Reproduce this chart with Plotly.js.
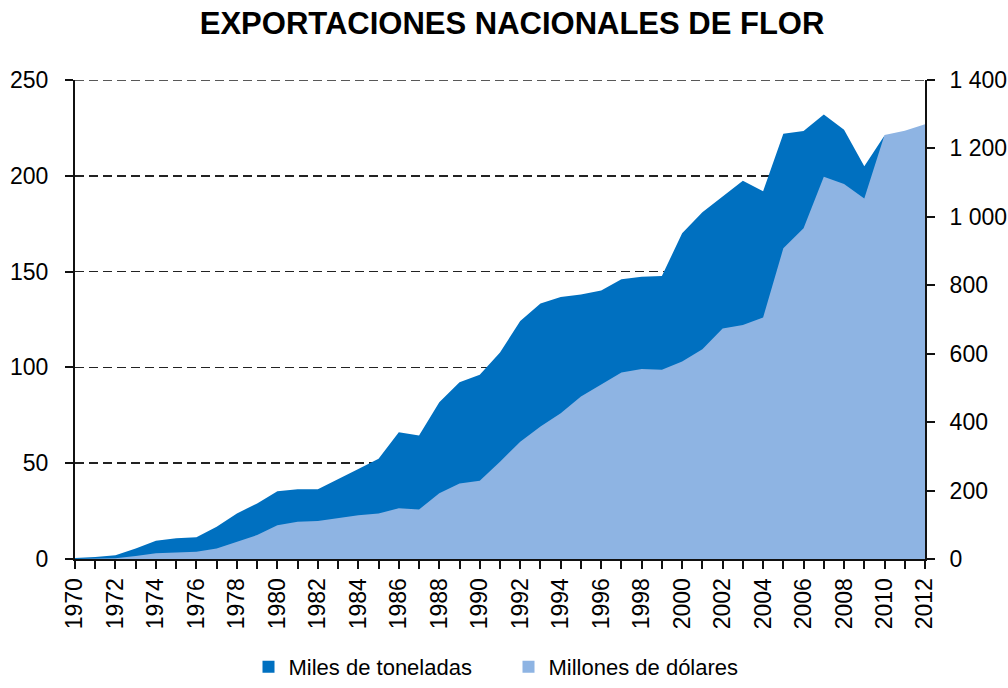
<!DOCTYPE html>
<html>
<head>
<meta charset="utf-8">
<script src="https://cdn.plot.ly/plotly-3.0.1.min.js"></script>
<style>html,body{margin:0;padding:0;background:#fff;}#chart{width:1008px;height:688px;}</style>
</head>
<body>
<div id="chart"></div>
<script>
const years = [1970,1971,1972,1973,1974,1975,1976,1977,1978,1979,1980,1981,1982,1983,1984,1985,1986,1987,1988,1989,1990,1991,1992,1993,1994,1995,1996,1997,1998,1999,2000,2001,2002,2003,2004,2005,2006,2007,2008,2009,2010,2011,2012];
const milesToneladas = [0.5,1,2,5.5,9.5,10.8,11.3,16.8,23.8,29,35.4,36.4,36.4,41.5,47,52.3,66.2,64.5,81.8,92.2,96.2,107.8,124.2,133.3,136.7,138,140.2,146,147.3,147.7,170,181,189,197.4,192,222,223.4,232,224,205,221,null,null];
const millonesDolares = [0,1,2,9,16.6,19,21,31,50,70,99,109,111,119,128,133,148,145,192,221,229,284,343,387,426,475,509,545,555,553,577,613,674,684,706,908,967,1117,1096,1054,1239,1252,1271];
const titleText = 'EXPORTACIONES NACIONALES DE FLOR';
const seriesNames = ['Miles de toneladas','Millones de dólares'];
const colors = ['#0070C0', '#8EB4E3'];
const leftMax = 250, rightMax = 1400;

const font = 'Liberation Sans, Arial, sans-serif';
const traces = [
  {x: years, y: milesToneladas, name: seriesNames[0], type: 'scatter', mode: 'lines', showlegend: false,
   fill: 'tozeroy', fillcolor: colors[0], line: {width: 0, color: colors[0]}, yaxis: 'y'},
  {x: years, y: millonesDolares, name: seriesNames[1], type: 'scatter', mode: 'lines', showlegend: false,
   fill: 'tozeroy', fillcolor: colors[1], line: {width: 0, color: colors[1]}, yaxis: 'y2'},
  // legend-only entries (square swatches)
  {x: [null], y: [null], name: seriesNames[0], type: 'bar', marker: {color: colors[0]}, showlegend: true, hoverinfo: 'skip'},
  {x: [null], y: [null], name: seriesNames[1], type: 'bar', marker: {color: colors[1]}, showlegend: true, hoverinfo: 'skip'}
];
const layout = {
  width: 1008, height: 688,
  margin: {l: 75, r: 83, t: 80, b: 129, autoexpand: false},
  paper_bgcolor: '#fff', plot_bgcolor: 'rgba(0,0,0,0)',
  separators: ', ',
  font: {family: font, size: 23, color: '#000'},
  title: {text: '<b>' + titleText + '</b>', x: 0.508, xanchor: 'center', y: 0.967, yanchor: 'middle',
          font: {family: font, size: 31, color: '#000'}},
  showlegend: true,
  legend: {orientation: 'h', x: 0.51, xanchor: 'center', yref: 'container', y: 0, yanchor: 'bottom',
           font: {family: font, size: 22, color: '#000'}, traceorder: 'normal', itemwidth: 30,
           entrywidth: 215, bgcolor: 'rgba(0,0,0,0)', borderwidth: 0},
  xaxis: {range: [1970, 2012], tickmode: 'linear', tick0: 1970, dtick: 2, tickangle: -90, automargin: false,
          ticks: 'outside', ticklen: 8, tickwidth: 2, tickcolor: '#111', showline: true, linecolor: '#111', linewidth: 2,
          showgrid: false, zeroline: false, tickfont: {size: 23},
          minor: {dtick: 1, tick0: 1970, ticks: 'outside', ticklen: 8, tickwidth: 2, tickcolor: '#111', showgrid: false}},
  yaxis: {range: [0, leftMax], dtick: 50, ticks: 'outside', ticklen: 8, tickwidth: 2, tickcolor: '#111', automargin: false,
          showline: true, linecolor: '#111', linewidth: 2, showgrid: true, gridcolor: '#222',
          griddash: '9px,5px', gridwidth: 1.5, zeroline: false, tickfont: {size: 23}, ticklabelstandoff: 12},
  yaxis2: {range: [0, rightMax], dtick: 200, overlaying: 'y', side: 'right', ticks: 'outside', ticklen: 8, tickwidth: 2,
           tickcolor: '#111', showline: true, linecolor: '#111', linewidth: 2, showgrid: false, automargin: false,
           zeroline: false, separatethousands: true, tickfont: {size: 23}, ticklabelstandoff: 10},
  shapes: [{type: 'line', xref: 'paper', x0: 0, x1: 1, yref: 'y', y0: leftMax, y1: leftMax,
            line: {color: '#222', width: 1.5, dash: '9px,5px'}, layer: 'below'}]
};
Plotly.newPlot('chart', traces, layout, {displayModeBar: false, staticPlot: true});
</script>
</body>
</html>
